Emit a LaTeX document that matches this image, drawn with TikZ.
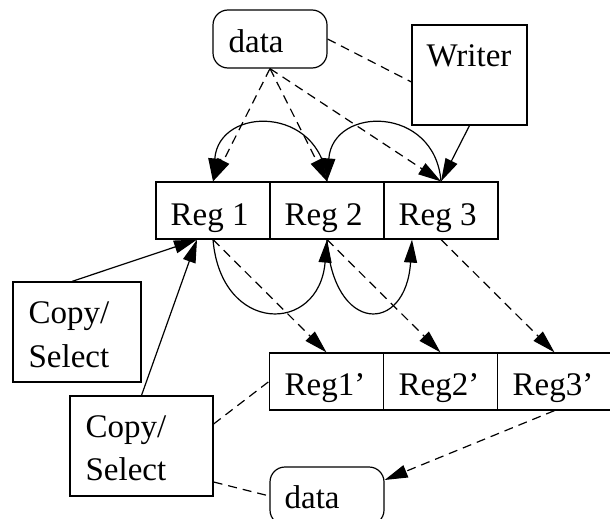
\documentclass[tikz,border=0pt]{standalone}
\usepackage{fontspec}
\setmainfont{Liberation Serif}
\usetikzlibrary{arrows.meta,calc}

\begin{document}
\begin{tikzpicture}[
  x=0.5pt, y=-0.5pt,
  line width=0.6pt,
  font=\fontsize{16.5}{21.5}\selectfont,
  box/.style={draw, rectangle, inner sep=0pt},
  roundbox/.style={box, rounded corners=7.5pt},
  txt/.style={anchor=base west, inner sep=0pt},
  dsh/.style={dash pattern=on 4.5pt off 3pt},
  tip/.style={-{Triangle[length=11.5pt, width=6.5pt]}},
]
\clip (0,0) rectangle (610,519);
\useasboundingbox (0,0) rectangle (610,519);

% boxes
\node[roundbox, minimum width=57pt, minimum height=29pt] (data1) at (270,39) {};
\node[box, minimum width=57.5pt, minimum height=50pt] (writer) at (469.5,75) {};
\node[box, minimum width=57pt, minimum height=28.5pt] (reg1) at (213,210.5) {};
\node[box, minimum width=57pt, minimum height=28.5pt] (reg2) at (327,210.5) {};
\node[box, minimum width=57pt, minimum height=28.5pt] (reg3) at (441,210.5) {};
\node[box, minimum width=57pt, minimum height=28.5pt] (rp1) at (326.5,381.5) {};
\node[box, minimum width=57pt, minimum height=28.5pt] (rp2) at (440.5,381.5) {};
\node[box, minimum width=57pt, minimum height=28.5pt] (rp3) at (554.5,381.5) {};
\node[box, minimum width=64pt, minimum height=50pt] (copy1) at (77,332) {};
\node[box, minimum width=71.5pt, minimum height=50pt] (copy2) at (141.5,446) {};
\node[roundbox, minimum width=57pt, minimum height=29pt] (data2) at (327,496) {};

% labels
\node[txt] (t-data1) at (228,53) {data};
\node[txt] (t-writer) at (426,67) {Writer};
\node[txt] (t-reg1) at (170,225) {Reg 1};
\node[txt] (t-reg2) at (284,225) {Reg 2};
\node[txt] (t-reg3) at (398,225) {Reg 3};
\node[txt] (t-rp1) at (284,395) {Reg1'};
\node[txt] (t-rp2) at (398,395) {Reg2'};
\node[txt] (t-rp3) at (512,395) {Reg3'};
\node[txt] (t-data2) at (284,508) {data};
\node[txt] (t-copy1a) at (28,323) {Copy/};
\node[txt] (t-copy1b) at (28,367) {Select};
\node[txt] (t-copy2a) at (85,437) {Copy/};
\node[txt] (t-copy2b) at (85,480) {Select};

% data source to writer
\draw[dsh] (data1.east) -- ($(writer.west)+(0,7)$);

% data source to registers
\draw[dsh, tip] (data1.south) -- (reg1.north);
\draw[dsh, tip] (data1.south) -- (reg2.north);
\draw[dsh, tip] (data1.south) -- (reg3.north);

% writer to register 3
\draw[tip] (writer.south) -- (reg3.north);

% shifts along the top
\draw[tip] (reg2.north) .. controls ($(reg2.north)+(-6,-76)$) and ($(reg1.north)+(6,-76)$) .. (reg1.north);
\draw[tip] (reg3.north) .. controls ($(reg3.north)+(-6,-76)$) and ($(reg2.north)+(6,-76)$) .. (reg2.north);

% shifts along the bottom
\coordinate (r3in) at ($(reg3.south)+(-29,0)$);
\draw[tip] (reg1.south) .. controls ($(reg1.south)+(8,95)$) and ($(reg2.south)+(-8,95)$) .. (reg2.south);
\draw[tip] (reg2.south) .. controls ($(reg2.south)+(6,95)$) and ($(r3in)+(-6,95)$) .. (r3in);

% registers to shadow registers
\draw[dsh, tip] (reg1.south) -- (rp1.north);
\draw[dsh, tip] (reg2.south) -- (rp2.north);
\draw[dsh, tip] (reg3.south) -- (rp3.north);

% copy/select controls
\coordinate (csel) at ($(reg1.south)+(-16,0)$);
\draw[tip] ($(copy1.north)+(-5,0)$) -- (csel);
\draw[tip] (copy2.north) -- (csel);
\draw[dsh] ($(copy2.east)+(0,-22)$) -- (rp1.west);
\draw[dsh] ($(copy2.east)+(0,36)$) -- (data2.west);

% shadow register 3 to output data
\draw[dsh, tip] (rp3.south) -- ($(data2.east)+(0,-16)$);
\end{tikzpicture}
\end{document}
